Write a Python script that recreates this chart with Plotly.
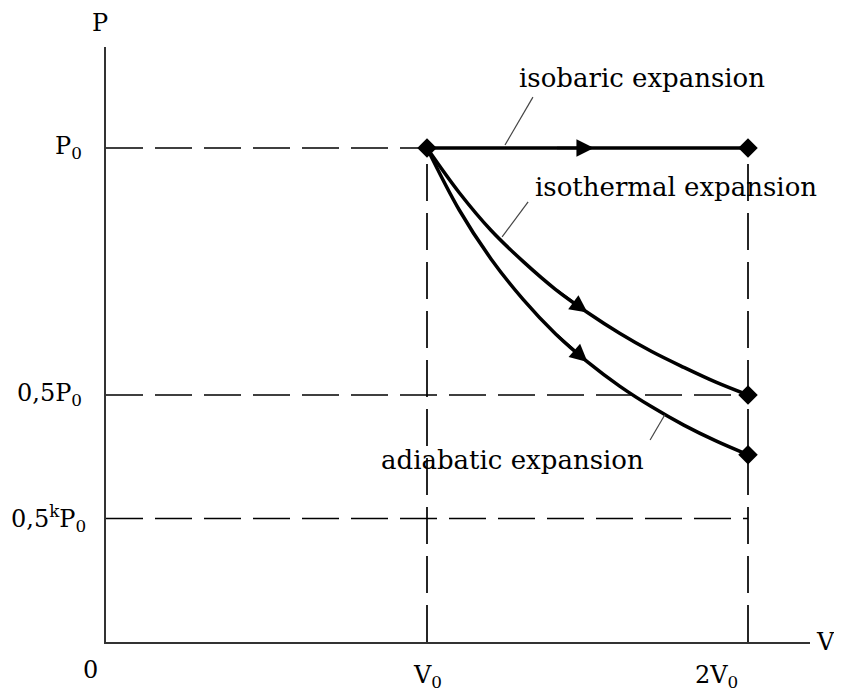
import plotly.graph_objects as go

# ---- data (units of V0 and P0) ----
V_points = [1.0, 1.1, 1.2, 1.3, 1.4, 1.5, 1.6, 1.7, 1.8, 1.9, 2.0]
P_isotherm = [1.0, 0.91, 0.833, 0.77, 0.714, 0.667, 0.625, 0.588, 0.556, 0.526, 0.5]
P_adiabat = [1.0, 0.875, 0.775, 0.693, 0.624, 0.567, 0.518, 0.476, 0.439, 0.407, 0.379]
V_isobar = [1.0, 2.0]
P_isobar = [1.0, 1.0]

V_ticks = [1.0, 2.0]
V_tick_labels = ["V<sub>0</sub>", "2V<sub>0</sub>"]
P_levels = [1.0, 0.5, 0.25]
P_tick_labels = ["P<sub>0</sub>", "0,5P<sub>0</sub>", "0,5<sup>k</sup>P<sub>0</sub>"]
P_dash_end = [1.0, 2.0, 2.0]   # where each horizontal guide ends (in V0)

state_V = [1.0, 2.0, 2.0, 2.0]
state_P = [1.0, 1.0, 0.5, 0.379]

arrow_idx = 5  # V = 1.5

FONT = "DejaVu Serif"
FS = 26
FS_TICK = 24
INK = "#000"

W, H = 842, 699
OFF = 8  # page body margin (all sides)
x0_px, y0_px = 106, 642
px_per_V, px_per_P = 321, 494
x_end_px, y_top_px = 810, 47
XMAX = (x_end_px - x0_px) / px_per_V
YMAX = (y0_px - y_top_px) / px_per_P
FIG_W, FIG_H = W - 2 * OFF, H - 2 * OFF


def px(v):
    return v / XMAX


def py(p):
    return p / YMAX


fig = go.Figure()

fig.add_trace(go.Scatter(x=V_isobar, y=P_isobar, mode="lines",
                         line=dict(color="black", width=3.5), hoverinfo="skip"))
fig.add_trace(go.Scatter(x=V_points, y=P_isotherm, mode="lines",
                         line=dict(color="black", width=3.5, shape="spline"), hoverinfo="skip"))
fig.add_trace(go.Scatter(x=V_points, y=P_adiabat, mode="lines",
                         line=dict(color="black", width=3.5, shape="spline"), hoverinfo="skip"))
fig.add_trace(go.Scatter(x=state_V, y=state_P, mode="markers",
                         marker=dict(symbol="diamond", size=15, color="black"),
                         hoverinfo="skip", cliponaxis=False))

shapes = []
dash = "37px,12px"
for p, xe in zip(P_levels, P_dash_end):
    shapes.append(dict(type="line", xref="x", yref="y", x0=0, x1=xe, y0=p, y1=p,
                       line=dict(color="black", width=1.7, dash=dash), layer="below"))
for v in V_ticks:
    shapes.append(dict(type="line", xref="x", yref="y", x0=v, x1=v, y0=0, y1=1.0,
                       line=dict(color="black", width=1.7, dash=dash), layer="below"))

leaders = [((1.330, 1.103), (1.243, 1.006)),
           ((1.315, 0.891), (1.234, 0.820)),
           ((1.741, 0.460), (1.695, 0.409))]
for (xa, ya), (xb, yb) in leaders:
    shapes.append(dict(type="line", xref="x", yref="y", x0=xa, y0=ya, x1=xb, y1=yb,
                       line=dict(color="#444", width=1.2)))

annotations = []
arrow_specs = [
    (1.40, 1.0, 1.52, 1.0),
    (V_points[arrow_idx - 1], P_isotherm[arrow_idx - 1], V_points[arrow_idx], P_isotherm[arrow_idx]),
    (V_points[arrow_idx - 1], P_adiabat[arrow_idx - 1], V_points[arrow_idx], P_adiabat[arrow_idx]),
]
for xa, ya, xb, yb in arrow_specs:
    annotations.append(dict(x=xb, y=yb, ax=xa, ay=ya, xref="x", yref="y", axref="x", ayref="y",
                            text="", showarrow=True, arrowhead=2, arrowsize=1.4,
                            arrowwidth=2.5, arrowcolor="black"))


def label(x, y, text, size, xanchor="center"):
    return dict(x=px(x), y=py(y), xref="paper", yref="paper", text=text, showarrow=False,
                font=dict(family=FONT, size=size, color=INK), xanchor=xanchor, yanchor="middle")


annotations += [
    label(1.671, 1.142, "isobaric expansion", FS),
    label(1.777, 0.921, "isothermal expansion", FS),
    label(1.266, 0.368, "adiabatic expansion", FS),
    label(-0.019, 1.253, "P", FS_TICK),
    label(2.240, 0.0, "V", FS_TICK),
    label(-0.047, -0.057, "0", FS_TICK),
]
x_label_shift = [0.003, -0.098]
for v, t, s in zip(V_ticks, V_tick_labels, x_label_shift):
    annotations.append(label(v + s, -0.07, t, FS_TICK))
y_label_right = [-0.068, -0.068, -0.055]
for p, t, xr in zip(P_levels, P_tick_labels, y_label_right):
    annotations.append(label(xr, p, t, FS_TICK, xanchor="right"))

fig.update_layout(
    width=FIG_W, height=FIG_H,
    margin=dict(l=x0_px - OFF, r=(W - OFF) - x_end_px, t=y_top_px - OFF, b=(H - OFF) - y0_px, pad=0),
    paper_bgcolor="white", plot_bgcolor="white",
    font=dict(family=FONT, size=FS_TICK, color=INK),
    showlegend=False,
    shapes=shapes, annotations=annotations,
    xaxis=dict(range=[0, XMAX], showgrid=False, zeroline=False,
               showticklabels=False, ticks="", showline=True, linecolor="#333", linewidth=2,
               fixedrange=True),
    yaxis=dict(range=[0, YMAX], showgrid=False, zeroline=False,
               showticklabels=False, ticks="", showline=True, linecolor="#333", linewidth=2,
               fixedrange=True),
)

fig.write_html("out.html")
